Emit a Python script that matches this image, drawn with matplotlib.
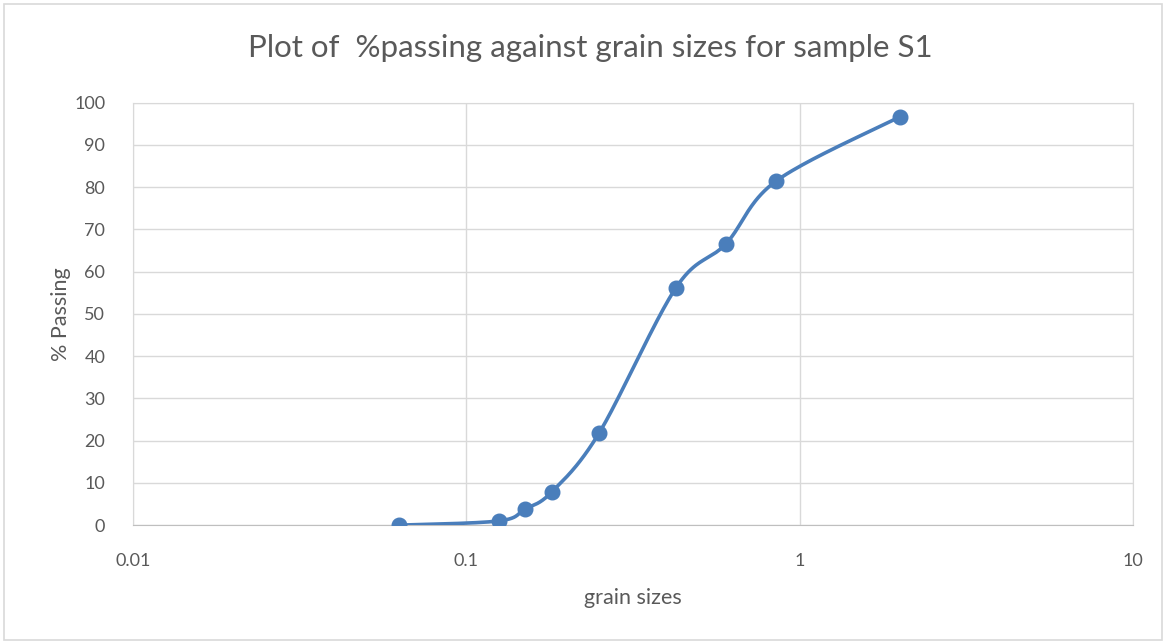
import numpy as np
import matplotlib.pyplot as plt
from matplotlib.patches import Rectangle

plt.rcParams['font.family'] = ['Lato', 'DejaVu Sans']

grain_size = [0.063, 0.125, 0.15, 0.18, 0.25, 0.425, 0.6, 0.85, 2.0]
pct_passing = [0.0, 1.0, 3.8, 7.8, 21.8, 56.2, 66.6, 81.5, 96.7]

line_col = '#4a7ebb'
text_col = '#595959'
grid_col = '#d9d9d9'

fig = plt.figure(figsize=(11.66, 6.42), dpi=100)
ax = fig.add_axes([0.114, 0.182, 0.858, 0.658])
ax.set_xscale('log')
ax.set_xlim(0.01, 10)
ax.set_ylim(0, 100)


def smooth_curve(ax, xs, ys, n=40):
    # Excel-style smoothed line: bezier through the points in screen space
    pts = ax.transData.transform(np.column_stack([xs, ys]))
    out = [pts[0]]
    for i in range(len(pts) - 1):
        p0 = pts[i - 1] if i > 0 else pts[i]
        p1 = pts[i]
        p2 = pts[i + 1]
        p3 = pts[i + 2] if i + 2 < len(pts) else pts[i + 1]
        c1 = p1 + (p2 - p0) / 6.0
        c2 = p2 - (p3 - p1) / 6.0
        t = np.linspace(0, 1, n)[1:, None]
        seg = ((1 - t) ** 3) * p1 + 3 * ((1 - t) ** 2) * t * c1 + 3 * (1 - t) * t ** 2 * c2 + t ** 3 * p2
        out.extend(seg)
    out = np.array(out)
    return ax.transData.inverted().transform(out)


curve = smooth_curve(ax, grain_size, pct_passing)
ax.plot(curve[:, 0], curve[:, 1], color=line_col, lw=2.6, zorder=3)
ax.plot(grain_size, pct_passing, 'o', color=line_col, ms=10.5, zorder=4)

ax.set_yticks(range(0, 101, 10))
ax.set_xticks([0.01, 0.1, 1, 10])
ax.set_xticklabels(['0.01', '0.1', '1', '10'])
ax.minorticks_off()
ax.grid(True, color=grid_col, lw=1)
ax.set_axisbelow(True)
ax.tick_params(length=0, labelsize=13, colors=text_col)
ax.tick_params(axis='x', pad=20)
ax.tick_params(axis='y', pad=20)
for s in ax.spines.values():
    s.set_color(grid_col)
ax.spines['bottom'].set_color('#bfbfbf')

ax.set_xlabel('grain sizes', fontsize=15.5, color=text_col, labelpad=14)
ax.set_ylabel('% Passing', fontsize=15.5, color=text_col, labelpad=2)
fig.text(0.506, 0.925, 'Plot of  %passing against grain sizes for sample S1',
         ha='center', va='center', fontsize=22.5, color=text_col)

fig.add_artist(Rectangle((4 / 1166, 2 / 642), 1158 / 1166, 636 / 642,
                         transform=fig.transFigure, fill=False,
                         edgecolor=grid_col, lw=1.2))

fig.savefig('out.png', dpi=100)
